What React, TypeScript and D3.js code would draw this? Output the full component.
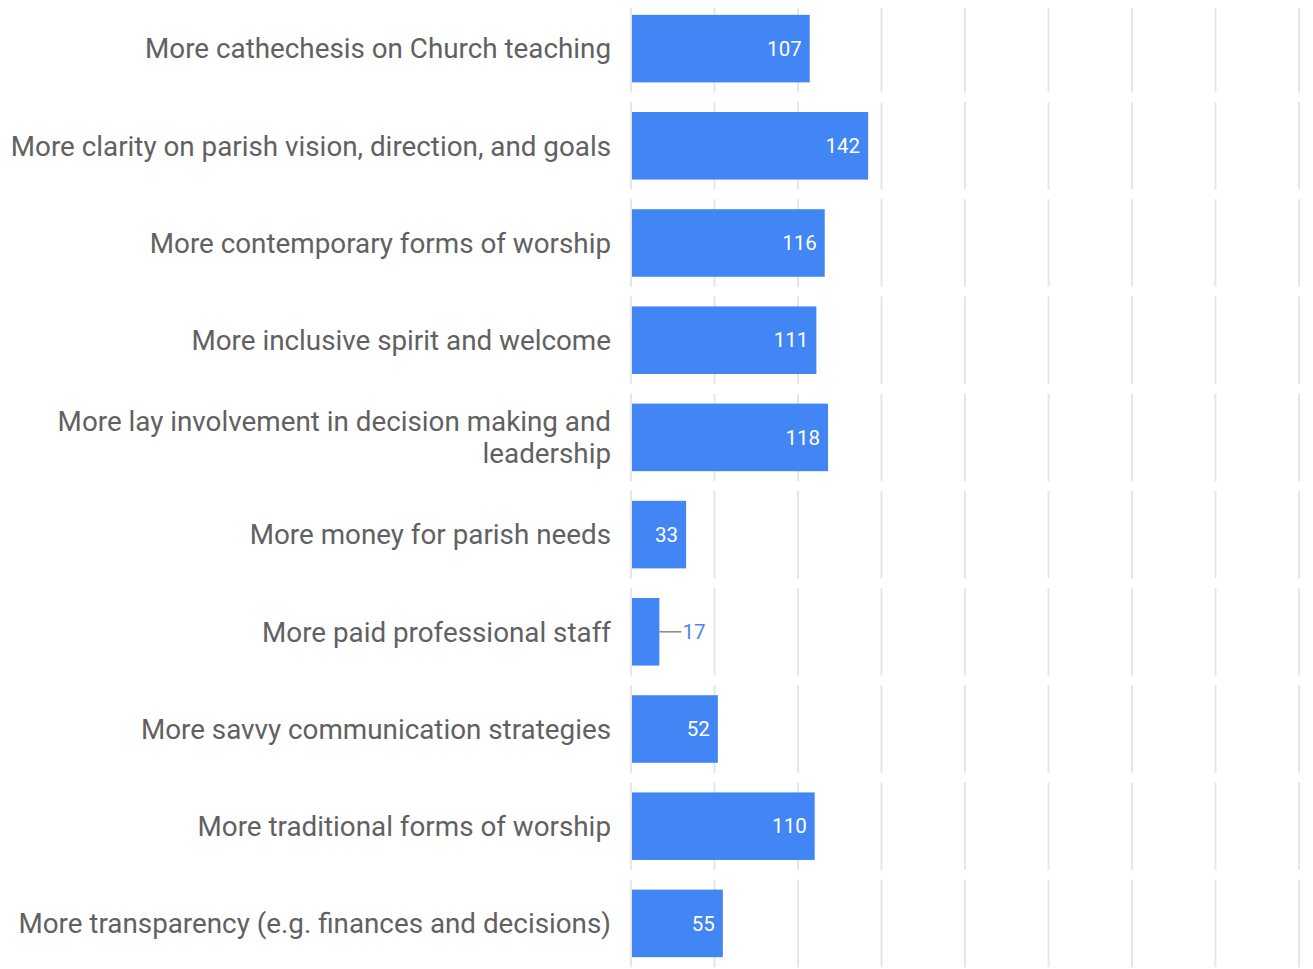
import React from "react";
import * as d3 from "d3";

const categories = [
  "More cathechesis on Church teaching",
  "More clarity on parish vision, direction, and goals",
  "More contemporary forms of worship",
  "More inclusive spirit and welcome",
  "More lay involvement in decision making and leadership",
  "More money for parish needs",
  "More paid professional staff",
  "More savvy communication strategies",
  "More traditional forms of worship",
  "More transparency (e.g. finances and decisions)",
];
const values = [107, 142, 116, 111, 118, 33, 17, 52, 110, 55];
const labelLines: string[][] = [
  ["More cathechesis on Church teaching"],
  ["More clarity on parish vision, direction, and goals"],
  ["More contemporary forms of worship"],
  ["More inclusive spirit and welcome"],
  ["More lay involvement in decision making and", "leadership"],
  ["More money for parish needs"],
  ["More paid professional staff"],
  ["More savvy communication strategies"],
  ["More traditional forms of worship"],
  ["More transparency (e.g. finances and decisions)"],
];
const xTicks = [0, 50, 100, 150, 200, 250, 300, 350, 400];

const W = 1313;
const H = 969;
const FONT = "Roboto, 'Noto Sans', sans-serif";

export default function App() {
  const x = d3.scaleLinear().domain([0, 400]).range([631, 1299]);
  const y = d3.scaleBand<string>().domain(categories).range([0, 972]).padding(0);
  const step = y.step();
  const barH = step * 0.695;
  const segHalf = barH / 2 + 10;

  return (
    <svg
      width={W}
      height={H}
      style={{ position: "absolute", left: 0, top: 0, background: "#fff" }}
      fontFamily={FONT}
    >
      {categories.map((c) => {
        const cy = (y(c) as number) + step / 2;
        return (
          <g key={"g" + c}>
            {xTicks.map((t) => (
              <line
                key={t}
                x1={x(t)}
                x2={x(t)}
                y1={Math.max(cy - segHalf, 8)}
                y2={Math.min(cy + segHalf, H)}
                stroke="#e6e6e6"
                strokeWidth={2}
              />
            ))}
          </g>
        );
      })}
      {categories.map((c, i) => {
        const cy = (y(c) as number) + step / 2;
        const v = values[i];
        const x0 = x(0) + 1;
        const x1 = x(v);
        const inside = x1 - x0 > 40;
        const lines = labelLines[i];
        const lh = 32;
        return (
          <g key={c}>
            <rect x={x0} y={cy - barH / 2} width={x1 - x0} height={barH} fill="#4285f4" />
            {inside ? (
              <text
                x={x1 - 8}
                y={cy}
                dy="0.35em"
                textAnchor="end"
                fill="#ffffff"
                fontSize={20.5}
              >
                {v}
              </text>
            ) : (
              <g>
                <line x1={x1} x2={x1 + 22} y1={cy} y2={cy} stroke="#888" strokeWidth={1.5} />
                <text x={x1 + 23} y={cy} dy="0.35em" textAnchor="start" fill="#4a86e8" fontSize={20.5}>
                  {v}
                </text>
              </g>
            )}
            <text textAnchor="end" fill="#616161" fontSize={27.8}>
              {lines.map((ln, k) => (
                <tspan
                  key={k}
                  x={611}
                  y={cy + (k - (lines.length - 1) / 2) * lh}
                  dy="0.35em"
                >
                  {ln}
                </tspan>
              ))}
            </text>
          </g>
        );
      })}
    </svg>
  );
}
